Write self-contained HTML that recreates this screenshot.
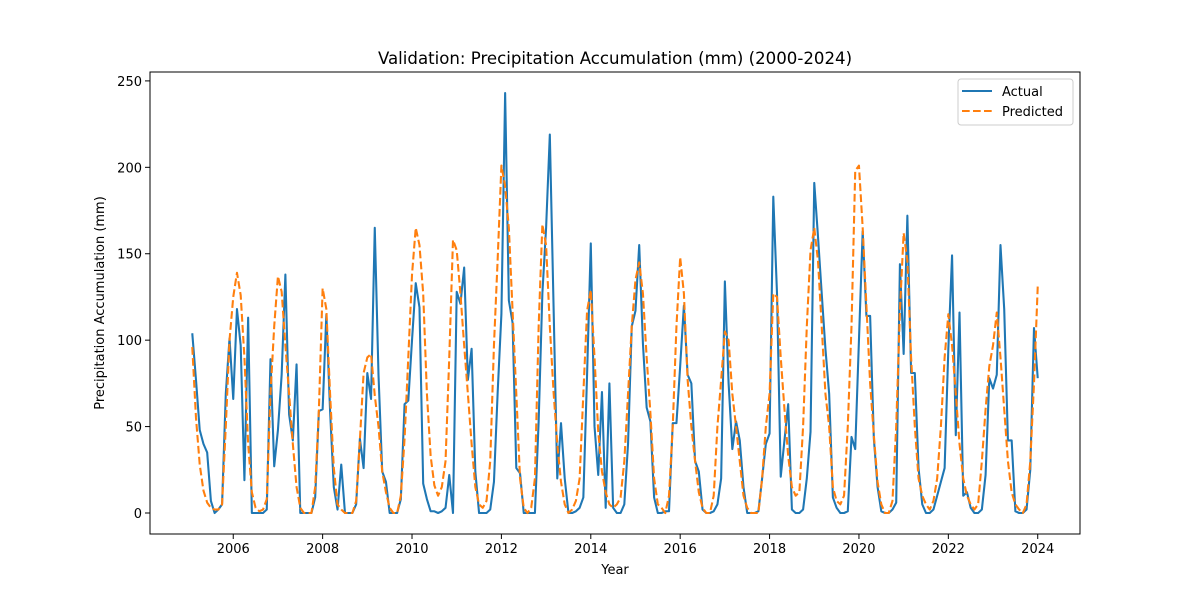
<!DOCTYPE html>
<html><head><meta charset="utf-8"><style>
body{margin:0;background:#fff;}
svg{display:block;font-family:"DejaVu Sans","Liberation Sans",sans-serif;}
</style></head><body>
<svg id="chart" width="1200" height="600" viewBox="0 0 1200 600" xmlns="http://www.w3.org/2000/svg">
<rect x="0" y="0" width="1200" height="600" fill="#fff"/>
<text x="615" y="64" text-anchor="middle" font-size="16.6">Validation: Precipitation Accumulation (mm) (2000-2024)</text>
<g id="plot"></g>
<text x="615" y="574" text-anchor="middle" font-size="13">Year</text>
<text transform="translate(104,303) rotate(-90)" text-anchor="middle" font-size="13">Precipitation Accumulation (mm)</text>
<g>
<rect x="958" y="79" width="115" height="46" rx="3" fill="#fff" fill-opacity="0.8" stroke="#ccc" stroke-width="1"/>
<line x1="962" y1="91" x2="992" y2="91" stroke="#1f77b4" stroke-width="2"/>
<text x="1002" y="96" font-size="13">Actual</text>
<line x1="962" y1="111" x2="992" y2="111" stroke="#ff7f0e" stroke-width="2" stroke-dasharray="7.7,3.3"/>
<text x="1002" y="116" font-size="13">Predicted</text>
</g>
</svg>
<script>
const startYear = 2005;
const actual = [
104,77,48,40,35,7,0,2,5,69,101,66,
118,97,19,113,0,0,0,0,2,89,27,48,
80,138,57,42,86,0,0,0,0,9,59,60,
115,59,15,2,28,0,0,0,5,43,26,81,
66,165,80,24,18,0,0,0,8,63,65,100,
133,119,17,8,1,1,0,1,3,22,0,128,
121,142,77,95,24,0,0,0,2,18,70,115,
243,123,110,26,23,0,0,0,0,53,127,165,
219,120,20,52,20,0,0,1,3,9,80,156,
50,22,70,3,75,3,0,0,5,40,108,117,
155,98,61,53,9,0,0,1,1,52,52,85,
120,80,75,30,24,2,0,0,1,5,20,134,
75,37,53,42,15,0,0,0,1,20,40,46,
183,127,21,42,63,2,0,0,2,20,47,191,
160,127,95,69,9,3,0,0,1,44,37,100,
163,114,114,43,15,1,0,0,2,6,144,92,
172,81,81,26,5,0,0,2,10,18,26,95,
149,45,116,10,12,3,0,0,2,22,78,72,
80,155,118,42,42,1,0,0,2,25,107,78];
const predicted = [
96,55,28,13,6,3,2,2,5,50,100,125,
139,126,90,40,12,3,1,2,8,69,108,137,
128,97,69,40,15,3,0,0,0,15,60,130,
118,69,26,5,2,0,0,0,7,42,81,90,
92,68,50,24,12,3,0,0,10,43,90,138,
165,155,127,69,33,16,10,15,30,90,158,152,
127,97,69,40,15,5,3,7,30,97,147,201,
189,165,117,69,20,3,0,3,20,108,167,155,
108,70,40,18,5,0,2,7,20,69,117,129,
90,47,24,12,5,3,5,9,30,69,108,135,
145,127,90,58,20,5,3,0,10,50,108,148,
127,77,50,30,12,3,0,0,10,50,77,105,
100,69,50,30,10,3,0,0,0,20,50,69,
127,125,90,60,33,15,10,12,50,108,152,165,
146,108,69,50,15,7,5,10,50,108,198,201,
165,120,75,45,18,5,0,0,7,50,117,162,
146,90,50,20,10,5,2,7,20,50,90,115,
97,69,40,20,10,5,2,5,30,60,85,97,
116,90,60,30,12,5,2,0,5,30,75,131];
const xTickLabels = [2006,2008,2010,2012,2014,2016,2018,2020,2022,2024];
const yTickLabels = [0,50,100,150,200,250];

const NS = "http://www.w3.org/2000/svg";
const L=150,R=1080,T=72,B=534;
const times = actual.map((v,i)=>startYear + (i+1)/12);
const tMin=times[0], tMax=times[times.length-1], tPad=(tMax-tMin)*0.05;
const allV = actual.concat(predicted);
const vMin=Math.min(...allV), vMax=Math.max(...allV), vPad=(vMax-vMin)*0.05;
const xs = t => L + (t-(tMin-tPad))/((tMax+tPad)-(tMin-tPad))*(R-L);
const ys = v => B - (v-(vMin-vPad))/((vMax+vPad)-(vMin-vPad))*(B-T);
const plot = document.getElementById('plot');
function mk(tag, attrs){const e=document.createElementNS(NS,tag);for(const k in attrs)e.setAttribute(k,attrs[k]);return e;}

const clip = mk('clipPath',{id:'pc'}); clip.appendChild(mk('rect',{x:L,y:T,width:R-L,height:B-T})); plot.appendChild(clip);

function series(vals, color, dash, name){
  const d = vals.map((v,i)=>(i?'L':'M')+xs(times[i]).toFixed(2)+','+ys(v).toFixed(2)).join('');
  const p = mk('path',{d:d,fill:'none',stroke:color,'stroke-width':2.08,'stroke-linejoin':'round','clip-path':'url(#pc)'});
  if(dash) p.setAttribute('stroke-dasharray',dash);
  
  
  plot.appendChild(p);
}
series(actual,'#1f77b4',null,'actual-line');
series(predicted,'#ff7f0e','7.7,3.3','predicted-line');

const frame = mk('rect',{x:L,y:T,width:R-L,height:B-T,fill:'none',stroke:'#000','stroke-width':1});


plot.appendChild(frame);

xTickLabels.forEach(yr=>{
  const x=xs(yr);
  const tk=mk('line',{x1:x,y1:B,x2:x,y2:B+5,stroke:'#000','stroke-width':1});
  
  
  plot.appendChild(tk);
  const t=mk('text',{x:x,y:B+19,'text-anchor':'middle','font-size':13});
  t.textContent=yr;
  
  
  plot.appendChild(t);
});
yTickLabels.forEach(v=>{
  const y=ys(v);
  const tk=mk('line',{x1:L-5,y1:y,x2:L,y2:y,stroke:'#000','stroke-width':1});
  
  
  plot.appendChild(tk);
  const t=mk('text',{x:L-8,y:y+5,'text-anchor':'end','font-size':13});
  t.textContent=v;
  
  
  plot.appendChild(t);
});
</script>
</body></html>
